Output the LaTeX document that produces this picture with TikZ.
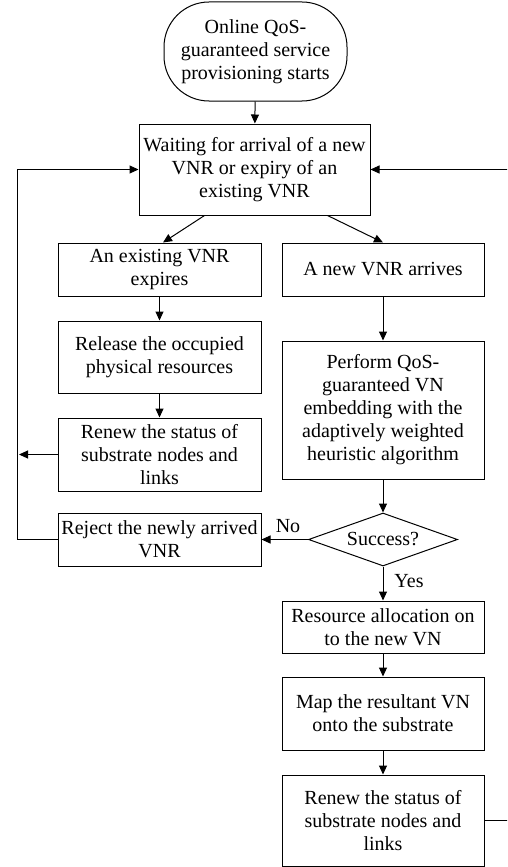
\documentclass[tikz,border=0pt]{standalone}
\usepackage{fontspec}
\setmainfont{Liberation Serif}
\usetikzlibrary{shapes.geometric,arrows.meta,calc}
\begin{document}
\begin{tikzpicture}[x=1pt,y=-1pt,
  box/.style={draw,line width=1pt,inner sep=0pt,align=center,font=\fontsize{20}{23}\selectfont},
  lbl/.style={inner sep=0pt,font=\fontsize{20}{23}\selectfont},
  arr/.style={line width=1pt,-{Triangle[length=9pt,width=8pt]}},
  ln/.style={line width=1pt}]
\useasboundingbox (0,0) rectangle (507,867);
\begin{scope}
\clip (0,0) rectangle (507,867);
\node[box,minimum width=183pt,minimum height=99pt,rounded corners=45pt] (start) at (255.5,51.5) {Online QoS-\\guaranteed service\\provisioning starts};
\node[box,minimum width=231pt,minimum height=91pt] (wait) at (254.5,169.5) {Waiting for arrival of a new\\VNR or expiry of an\\existing VNR};
\node[box,minimum width=203pt,minimum height=53pt] (expire) at (159.5,269.5) {An existing VNR\\expires};
\node[box,minimum width=203pt,minimum height=72pt] (release) at (159.5,357) {Release the occupied\\physical resources};
\node[box,minimum width=203pt,minimum height=73pt] (renewL) at (159.5,454.5) {Renew the status of\\substrate nodes and\\links};
\node[box,minimum width=203pt,minimum height=53pt] (reject) at (159.5,539.5) {Reject the newly arrived\\VNR};
\node[box,minimum width=202pt,minimum height=53pt] (newvnr) at (383,269.5) {A new VNR arrives};
\node[box,minimum width=202pt,minimum height=138pt] (perform) at (383,410) {Perform QoS-\\guaranteed VN\\embedding with the\\adaptively weighted\\heuristic algorithm};
\node[box,diamond,aspect=2.8,minimum width=149pt,minimum height=53pt] (succ) at (383,539.5) {Success?};
\node[box,minimum width=202pt,minimum height=52pt] (res) at (383,627) {Resource allocation on\\to the new VN};
\node[box,minimum width=202pt,minimum height=73pt] (map) at (383,713.5) {Map the resultant VN\\onto the substrate};
\node[box,minimum width=202pt,minimum height=91pt] (renewR) at (383,820.5) {Renew the status of\\substrate nodes and\\links};
\node[lbl] (no) at (288,526) {No};
\node[lbl] (yes) at (409,581) {Yes};
\coordinate (lA) at (17,454.5);
\coordinate (lB) at (17,539.5);
\coordinate (lC) at (17,169.5);
\coordinate (rA) at (512,820.5);
\coordinate (rB) at (512,169.5);
\draw[arr] (start) -- (wait);
\draw[arr] ($(wait.south)+(-50,0)$) -- ($(expire.north)+(3.5,0)$);
\draw[arr] ($(wait.south)+(73,0)$) -- (newvnr.north);
\draw[arr] (expire) -- (release);
\draw[arr] (release) -- (renewL);
\draw[arr] (renewL.west) -- ($(lA)+(2,0)$);
\draw[arr] (reject.west) -- (lB) -- (lC) -- (wait.west);
\draw[arr] (newvnr) -- (perform);
\draw[arr] (perform) -- (succ);
\draw[arr] (succ.west) -- (reject.east);
\draw[arr] (succ.south) -- (res.north);
\draw[arr] (res) -- (map);
\draw[arr] (map) -- (renewR);
\draw[arr] (renewR.east) -- (rA) -- (rB) -- (wait.east);
\end{scope}
\end{tikzpicture}
\end{document}
